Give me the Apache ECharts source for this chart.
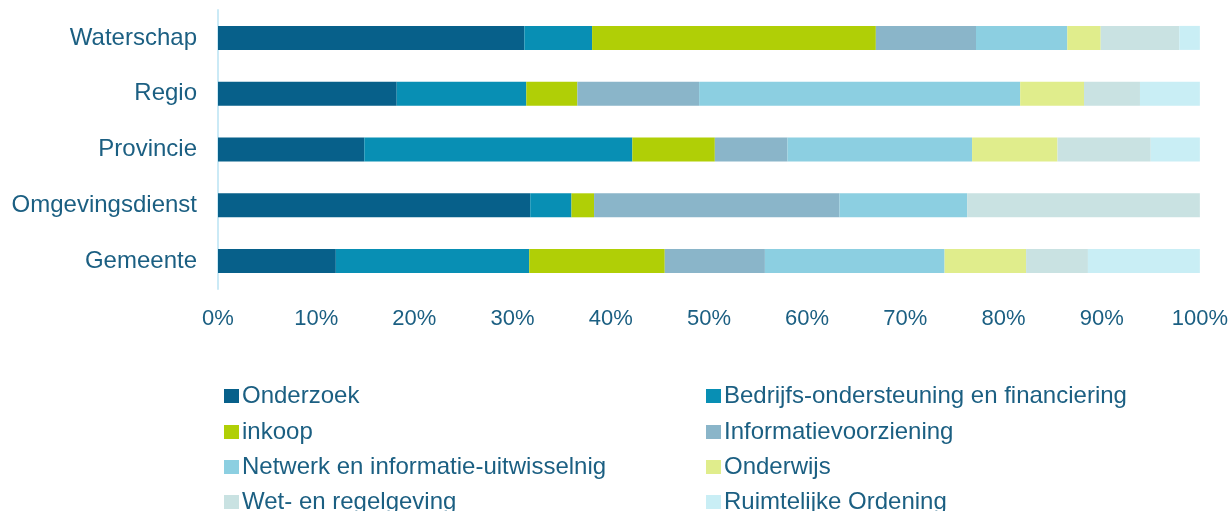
<!DOCTYPE html>
<html>
<head>
<meta charset="utf-8">
<script src="https://cdn.jsdelivr.net/npm/echarts@6/dist/echarts.min.js"></script>
<style>
  html, body { margin: 0; padding: 0; background: #fff; }
  #chart { width: 1231px; height: 511px; }
</style>
</head>
<body>
<div id="chart"></div>
<script>
// categories from bottom to top (category axis draws first item at the bottom)
const categories = ['Gemeente', 'Omgevingsdienst', 'Provincie', 'Regio', 'Waterschap']

// percentage shares per category, same order as categories
const onderzoek = [12.0, 31.8, 14.9, 18.2, 31.2]
const bedrijfs = [19.7, 4.2, 27.3, 13.2, 6.9]
const inkoop = [13.8, 2.3, 8.4, 5.2, 28.9]
const informatie = [10.2, 25.0, 7.4, 12.4, 10.2]
const netwerk = [18.3, 13.0, 18.8, 32.7, 9.3]
const onderwijs = [8.3, 0, 8.7, 6.5, 3.4]
const wetgeving = [6.3, 23.7, 9.5, 5.7, 8.0]
const ruimtelijk = [11.4, 0, 5.0, 6.1, 2.1]

const xTicks = [0, 10, 20, 30, 40, 50, 60, 70, 80, 90, 100]

const seriesDefs = [
  { name: 'Onderzoek', data: onderzoek, color: '#07608a' },
  { name: 'Bedrijfs-ondersteuning en financiering', data: bedrijfs, color: '#088fb4' },
  { name: 'inkoop', data: inkoop, color: '#b0cf06' },
  { name: 'Informatievoorziening', data: informatie, color: '#8ab5c9' },
  { name: 'Netwerk en informatie-uitwisselnig', data: netwerk, color: '#8ccfe1' },
  { name: 'Onderwijs', data: onderwijs, color: '#e0ed8c' },
  { name: 'Wet- en regelgeving', data: wetgeving, color: '#c9e2e2' },
  { name: 'Ruimtelijke Ordening', data: ruimtelijk, color: '#c9eef5' }
]

const textColor = '#1b5f82'
const font = 'Liberation Sans, Arial, sans-serif'

// legend is two columns; place each entry on its own
const legendCols = [224, 706]
const legendRows = [384, 420, 455, 490]
const legends = seriesDefs.map((s, i) => ({
  left: legendCols[i % 2],
  top: legendRows[Math.floor(i / 2)],
  padding: 0,
  itemWidth: 15,
  itemHeight: 14,
  icon: 'rect',
  data: [s.name],
  textStyle: { color: textColor, fontSize: 24, fontFamily: font, lineHeight: 24, padding: [0, 0, 0, -2] }
}))

const myChart = echarts.init(document.getElementById('chart'))
myChart.setOption({
  animation: false,
  grid: { left: 218, right: 30, top: 10, bottom: 222 },
  legend: legends,
  xAxis: {
    type: 'value',
    min: xTicks[0],
    max: xTicks[xTicks.length - 1],
    interval: 10,
    axisLine: { show: false },
    axisTick: { show: false },
    splitLine: { show: false },
    axisLabel: {
      formatter: '{value}%',
      color: textColor,
      fontSize: 22,
      fontFamily: font,
      margin: 19
    }
  },
  yAxis: {
    type: 'category',
    data: categories,
    axisLine: { show: true, lineStyle: { color: '#cbeaf6', width: 2 } },
    axisTick: { show: false },
    axisLabel: { color: textColor, fontSize: 24, fontFamily: font, margin: 21 }
  },
  series: seriesDefs.map(s => ({
    name: s.name,
    type: 'bar',
    stack: 'total',
    barWidth: 24,
    data: s.data,
    itemStyle: { color: s.color }
  }))
})
</script>
</body>
</html>
